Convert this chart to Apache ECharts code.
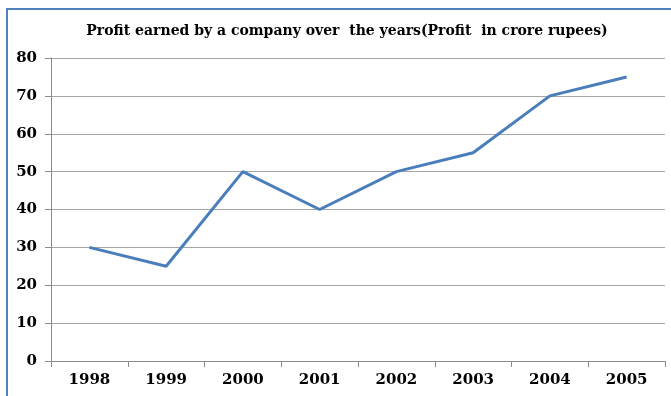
<!DOCTYPE html>
<html>
<head>
<meta charset="utf-8">
<script src="https://cdn.jsdelivr.net/npm/echarts@6/dist/echarts.min.js"></script>
<style>
  html, body { margin: 0; padding: 0; background: #fff; }
  #chart { width: 671px; height: 396px; }
</style>
</head>
<body>
<div id="chart"></div>
<script>
// Yearly profit, crore rupees
const years = ['1998', '1999', '2000', '2001', '2002', '2003', '2004', '2005'];
const profit = [30, 25, 50, 40, 50, 55, 70, 75];
const yMin = 0, yMax = 80, yStep = 10;

const chart = echarts.init(document.getElementById('chart'));
const labelFont = { fontFamily: 'DejaVu Serif', fontWeight: 'bold', fontSize: 15, color: '#000' };

chart.setOption({
  animation: false,
  backgroundColor: '#fff',
  title: {
    text: 'Profit earned by a company over  the years(Profit  in crore rupees)',
    left: 342, top: 19, textAlign: 'center',
    textStyle: { fontFamily: 'DejaVu Serif', fontWeight: 'bold', fontSize: 14, color: '#000' }
  },
  graphic: [{
    type: 'rect', z: 100,
    shape: { x: 7, y: 9, width: 700, height: 420 },
    style: { fill: 'none', stroke: '#4f81bd', lineWidth: 2 }
  }],
  grid: { left: 51, right: 6, top: 58, bottom: 35 },
  xAxis: {
    type: 'category', data: years, boundaryGap: true,
    axisLine: { lineStyle: { color: '#8c8c8c', width: 1 } },
    axisTick: { show: true, length: 6, lineStyle: { color: '#8c8c8c' } },
    axisLabel: Object.assign({ margin: 12 }, labelFont),
    splitLine: { show: false }
  },
  yAxis: {
    type: 'value', min: yMin, max: yMax, interval: yStep,
    axisLine: { show: true, lineStyle: { color: '#8c8c8c', width: 1 } },
    axisTick: { show: true, length: 6, lineStyle: { color: '#8c8c8c' } },
    axisLabel: Object.assign({ margin: 14 }, labelFont),
    splitLine: { lineStyle: { color: '#a6a6a6', width: 1 } }
  },
  series: [{
    type: 'line', data: profit, symbol: 'none',
    lineStyle: { color: '#4a7ebb', width: 3 }
  }]
});
</script>
</body>
</html>
